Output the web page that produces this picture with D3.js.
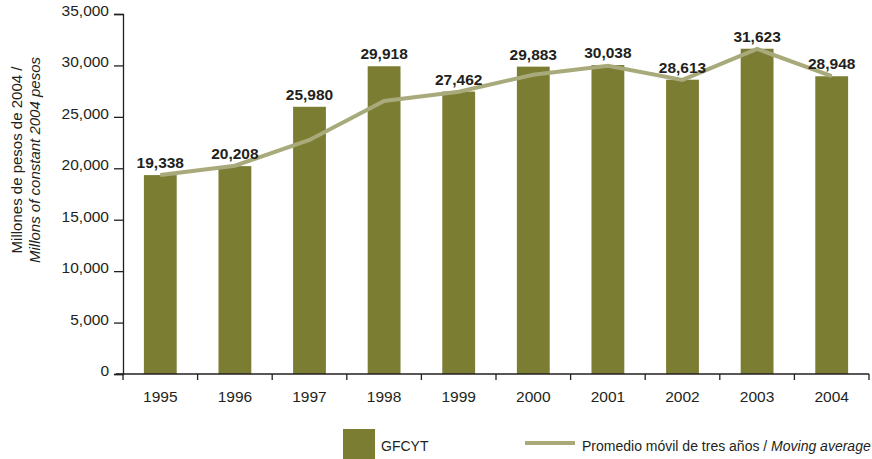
<!DOCTYPE html>
<html><head><meta charset="utf-8">
<script src="https://cdn.jsdelivr.net/npm/d3@7"></script>
<style>body{margin:0;background:#fff}svg{display:block;font-family:Arial,"Liberation Sans",sans-serif}</style>
</head><body><svg id="c" width="872" height="459"></svg>
<script>
const years = ["1995","1996","1997","1998","1999","2000","2001","2002","2003","2004"];
const gfcyt = [19338,20208,25980,29918,27462,29883,30038,28613,31623,28948];
const movingAvg = [19338,20250,22750,26550,27450,29100,29975,28590,31600,28970];
const yTicks = [0,5000,10000,15000,20000,25000,30000,35000];

const svg = d3.select("#c");
const barColor = "#7b7d33", lineColor = "#a9aa7b";
const x = d3.scaleBand().domain(years).range([123,869]).paddingInner(0.56).paddingOuter(0.28);
const y = d3.scaleLinear().domain([0,35000]).range([374,14]);
const fmt = d3.format(",");

// bars
svg.selectAll("rect.bar").data(gfcyt).join("rect").attr("class","bar")
  .attr("x",(d,i)=>x(years[i])).attr("width",x.bandwidth())
  .attr("y",d=>y(d)).attr("height",d=>y(0)-y(d)).attr("fill",barColor);

// line
const line = d3.line().x((d,i)=>x(years[i])+x.bandwidth()/2).y(d=>y(d));
svg.append("path").attr("d",line(movingAvg)).attr("fill","none")
  .attr("stroke",lineColor).attr("stroke-width",4);

// labels
svg.selectAll("text.lbl").data(gfcyt).join("text").attr("class","lbl")
  .attr("x",(d,i)=>x(years[i])+x.bandwidth()/2).attr("y",d=>y(d)-7)
  .attr("text-anchor","middle").attr("font-size","15.5px").attr("font-weight","bold")
  .attr("fill","#231f20").text(d=>fmt(d));

// y axis
const ya = svg.append("g").attr("transform","translate(123,0)")
  .call(d3.axisLeft(y).tickValues(yTicks).tickFormat(fmt).tickSizeOuter(0).tickSize(9).tickPadding(5));
ya.select(".domain").attr("stroke","#231f20").attr("stroke-width",1.3);
ya.selectAll(".tick line").attr("stroke","#231f20").attr("stroke-width",1.3);
ya.selectAll("text").attr("font-size","15.5px").attr("fill","#231f20").attr("font-family","Arial, 'Liberation Sans', sans-serif").attr("dy","0.1em");

// x axis
const xa = svg.append("g").attr("transform","translate(0,374)");
xa.append("line").attr("x1",116).attr("x2",869).attr("stroke","#231f20").attr("stroke-width",1.3);
const edges = d3.range(years.length+1).map(i=>123 + i*(869-123)/years.length);
xa.selectAll("line.t").data(edges).join("line").attr("class","t")
  .attr("x1",d=>d).attr("x2",d=>d).attr("y1",0).attr("y2",6)
  .attr("stroke","#231f20").attr("stroke-width",1.3);
xa.selectAll("text").data(years).join("text")
  .attr("x",d=>x(d)+x.bandwidth()/2).attr("y",28).attr("text-anchor","middle")
  .attr("font-size","15.5px").attr("fill","#231f20").text(d=>d);

// y title
const yt = svg.append("text").attr("transform","translate(22,160) rotate(-90)")
  .attr("text-anchor","middle").attr("font-size","15px").attr("fill","#231f20");
yt.append("tspan").attr("x",0).attr("dy",0).text("Millones de pesos de 2004 /");
yt.append("tspan").attr("x",0).attr("dy","1.2em").attr("font-style","italic").text("Millons of constant 2004 pesos");

// legend
const lg = svg.append("g");
lg.append("rect").attr("x",343).attr("y",429).attr("width",32).attr("height",30).attr("fill",barColor);
lg.append("text").attr("x",381).attr("y",451).attr("font-size","14px").attr("fill","#231f20").text("GFCYT");
lg.append("line").attr("x1",525).attr("x2",575).attr("y1",443).attr("y2",443).attr("stroke",lineColor).attr("stroke-width",4);
const lt = lg.append("text").attr("x",582).attr("y",451).attr("font-size","14px").attr("fill","#231f20");
lt.append("tspan").text("Promedio móvil de tres años / ");
lt.append("tspan").attr("font-style","italic").text("Moving average");
</script></body></html>
